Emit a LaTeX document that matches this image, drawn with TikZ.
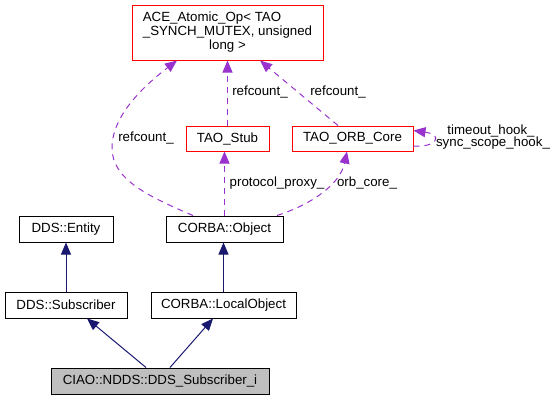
\documentclass[tikz,border=0pt]{standalone}
\usepackage{fontspec}
\setmainfont{Liberation Sans}
\usetikzlibrary{arrows.meta}
\definecolor{navyedge}{HTML}{191970}
\definecolor{purpleedge}{HTML}{9A32CD}
\definecolor{redbox}{HTML}{FF0000}
\definecolor{grayfill}{HTML}{BFBFBF}
\tikzset{
  every node/.style={font=\fontsize{13.3}{13.8}\selectfont},
  box/.style={draw=black, line width=1pt, rectangle, inner sep=0pt, minimum height=26pt},
  redb/.style={box, draw=redbox},
  lbl/.style={inner sep=0pt},
  inherit/.style={draw=navyedge, line width=1pt, -{Triangle[length=12pt,width=10pt]}},
  usage/.style={draw=purpleedge, line width=1pt, dash pattern=on 6pt off 5pt, -{Triangle[length=12pt,width=10pt]}},
}
\begin{document}
\begin{tikzpicture}[x=1pt,y=-1pt]
\useasboundingbox (0,0) rectangle (555,400);
% boxes
\node[redb, minimum width=191pt, minimum height=55pt] (ace) at (227.5,32.5)
  {\begin{tabular}{@{}l@{}}ACE\_Atomic\_Op< TAO\\\_SYNCH\_MUTEX, unsigned\\\multicolumn{1}{@{}c@{}}{long >}\end{tabular}};
\node[redb, minimum width=83pt, minimum height=25pt] (stub) at (227.5,138.5) {TAO\_Stub};
\node[redb, minimum width=121pt, minimum height=25pt] (orb) at (352.5,138.5) {TAO\_ORB\_Core};
\node[box, minimum width=117pt] (obj) at (224.5,229) {CORBA::Object};
\node[box, minimum width=94pt] (ent) at (66,229) {DDS::Entity};
\node[box, minimum width=122pt] (sub) at (66,305) {DDS::Subscriber};
\node[box, minimum width=145pt] (lobj) at (223.5,305) {CORBA::LocalObject};
\node[box, fill=grayfill, minimum width=218pt] (ciao) at (160,381) {CIAO::NDDS::DDS\_Subscriber\_i};
% inheritance
\draw[inherit] ([xshift=-14pt]ciao.north) -- ([xshift=21pt]sub.south);
\draw[inherit] ([xshift=10pt]ciao.north) -- ([xshift=-10.5pt]lobj.south);
\draw[inherit] (sub.north) -- (ent.south);
\draw[inherit] (lobj.north) -- (lobj.north |- obj.south);
% usage
\draw[usage] ([xshift=-31.5pt]obj.north) .. controls (150,197) and (112,180) .. (112,148)
  .. controls (112,115) and (145,85) .. ([xshift=-50.5pt]ace.south);
\draw[usage] (stub.north) -- (stub.north |- ace.south);
\draw[usage] ([xshift=-14.5pt]orb.north) -- ([xshift=32.5pt]ace.south);
\draw[usage] (obj.north) -- (obj.north |- stub.south);
\draw[usage] ([xshift=52.5pt]obj.north) .. controls (310,205) and (340,185) .. ([xshift=-5.5pt]orb.south);
\draw[usage] ([yshift=-7.5pt]orb.east) .. controls (435,148) and (445,135) .. ([yshift=8pt]orb.east);
% labels
\node[lbl] (l1) at (146,138) {refcount\_};
\node[lbl] (l2) at (260,92) {refcount\_};
\node[lbl] (l3) at (338,92) {refcount\_};
\node[lbl] (l4) at (277,183) {protocol\_proxy\_};
\node[lbl] (l5) at (367,183) {orb\_core\_};
\node[lbl] (l6) at (491,131) {timeout\_hook\_};
\node[lbl] (l7) at (493,143.5) {sync\_scope\_hook\_};
\end{tikzpicture}
\end{document}
